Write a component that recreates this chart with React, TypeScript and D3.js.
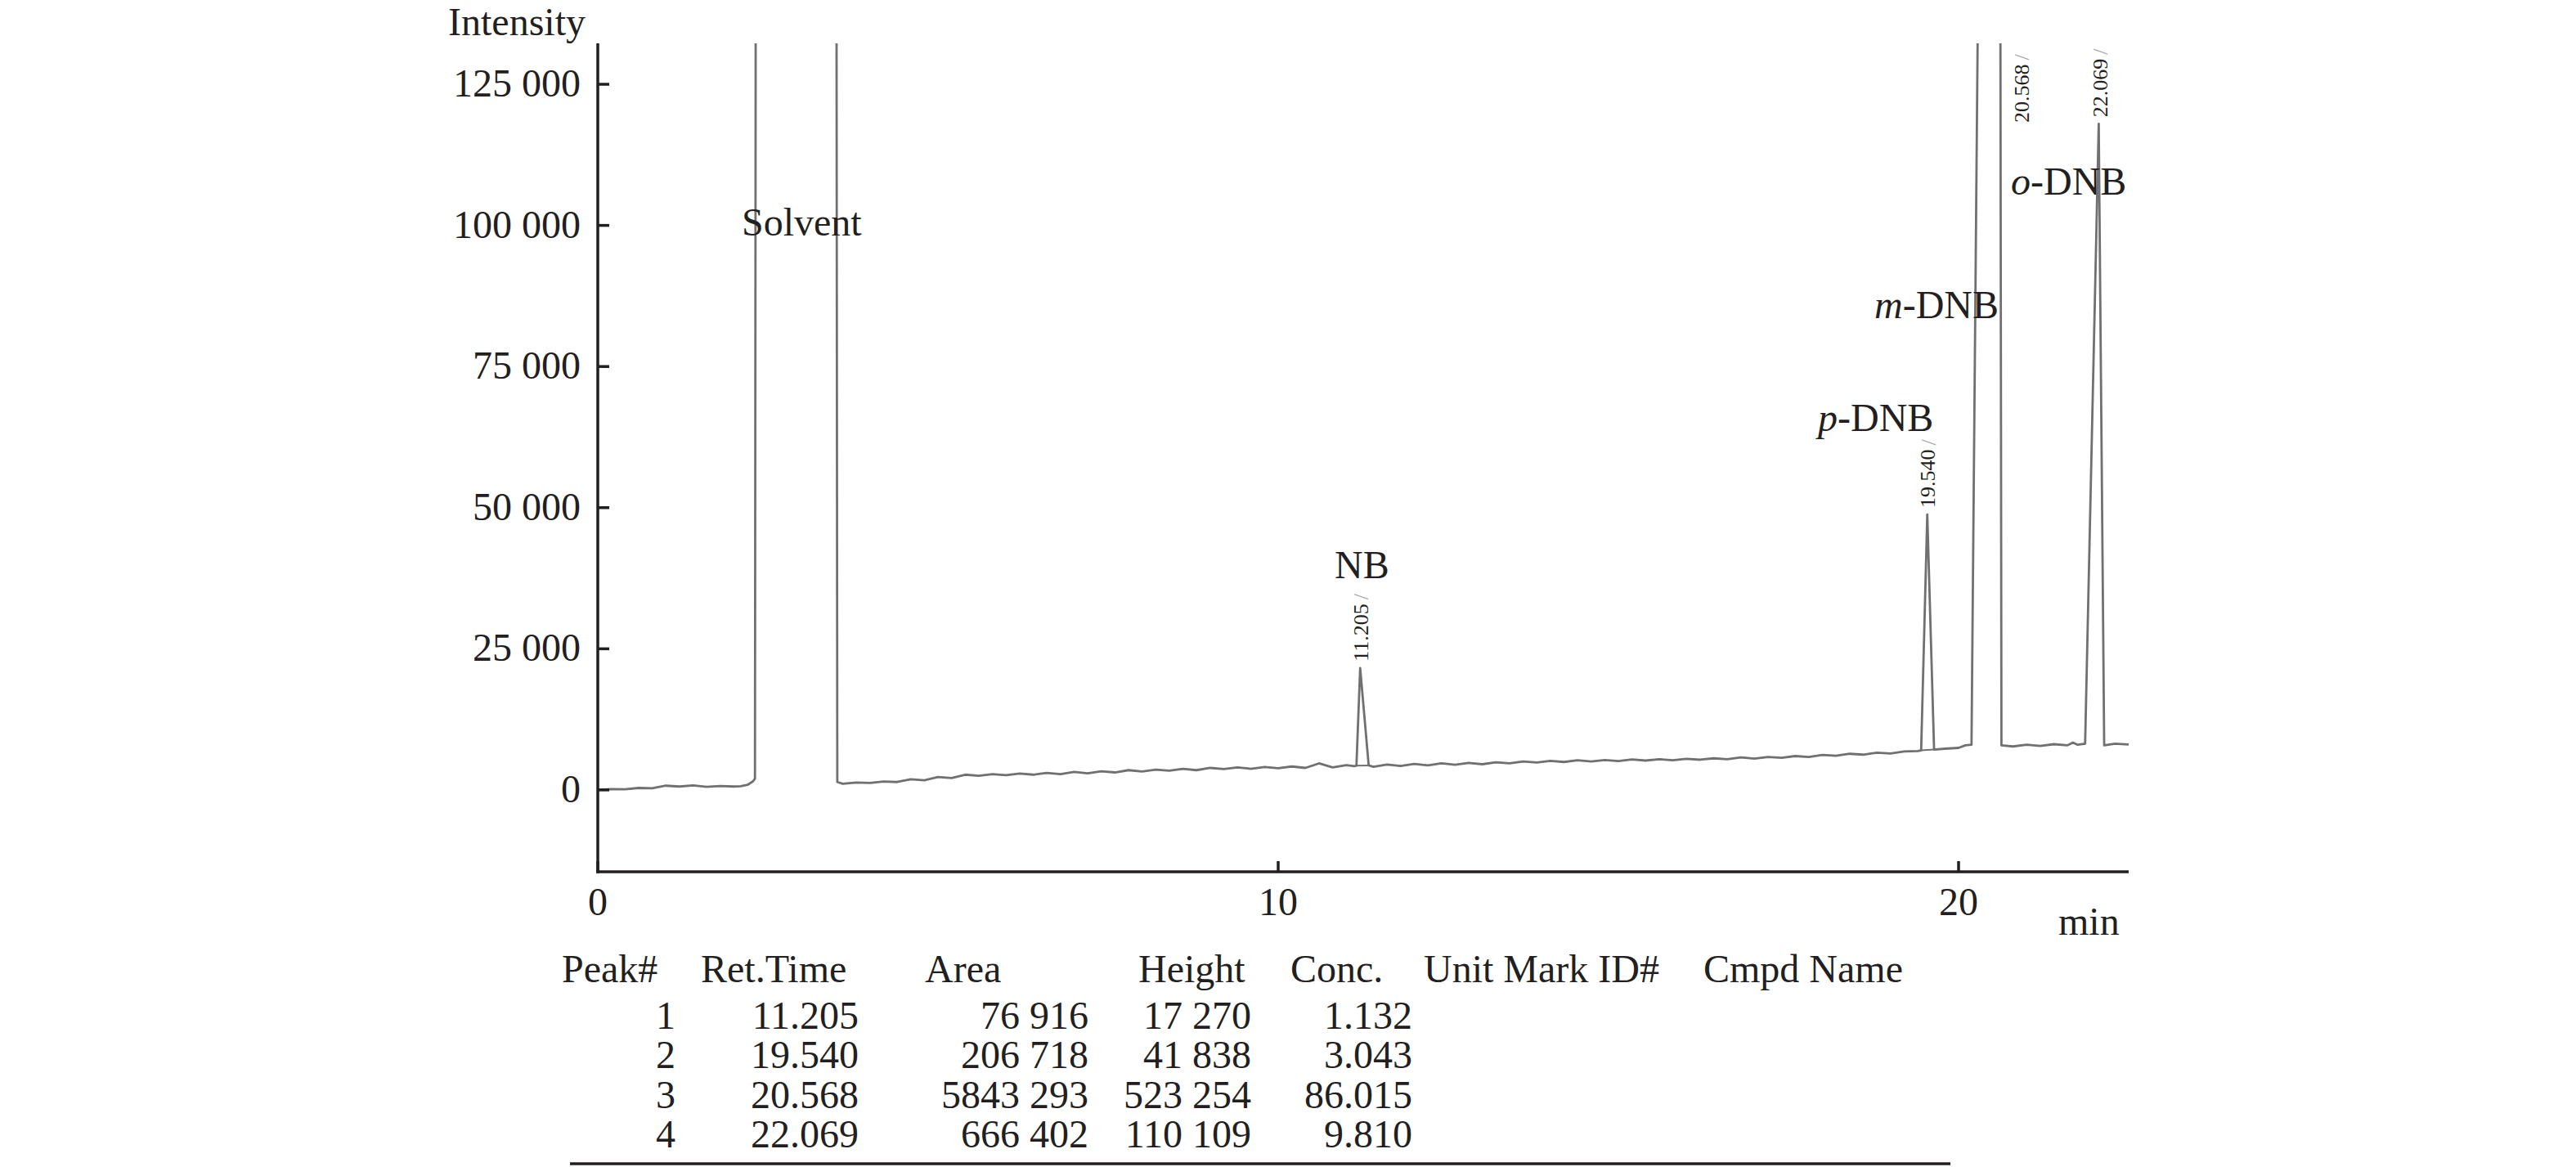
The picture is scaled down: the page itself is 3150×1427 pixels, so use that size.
import React from "react";
import * as d3 from "d3";

// ---- Data ----
const traceTime = [
  0.0, 0.2, 0.4, 0.6, 0.8, 1.0, 1.2, 1.4, 1.6, 1.8, 2.0, 2.1, 2.2, 2.28, 2.31,
  2.33, 3.5, 3.52, 3.6, 3.8, 4.0, 4.2, 4.4, 4.6, 4.8, 5.0, 5.2, 5.4, 5.6, 5.8,
  6.0, 6.2, 6.4, 6.6, 6.8, 7.0, 7.2, 7.4, 7.6, 7.8, 8.0, 8.2, 8.4, 8.6, 8.8,
  9.0, 9.2, 9.4, 9.6, 9.8, 10.0, 10.2, 10.4, 10.6, 10.8, 11.0, 11.12, 11.15,
  11.205, 11.33, 11.4, 11.6, 11.8, 12.0, 12.2, 12.4, 12.6, 12.8, 13.0, 13.2,
  13.4, 13.6, 13.8, 14.0, 14.2, 14.4, 14.6, 14.8, 15.0, 15.2, 15.4, 15.6, 15.8,
  16.0, 16.2, 16.4, 16.6, 16.8, 17.0, 17.2, 17.4, 17.6, 17.8, 18.0, 18.2, 18.4,
  18.6, 18.8, 19.0, 19.2, 19.4, 19.45, 19.54, 19.64, 19.8, 20.0, 20.1, 20.19,
  20.568, 20.63, 20.8, 21.0, 21.2, 21.4, 21.6, 21.68, 21.75, 21.86, 22.06,
  22.14, 22.3, 22.5,
];
const traceValue = [
  0, 150, 100, 350, 300, 750, 600, 800, 550, 700, 600, 650, 900, 1500, 2000,
  250000, 250000, 1400, 1100, 1300, 1250, 1500, 1400, 1900, 1700, 2300, 2100,
  2700, 2500, 2800, 2600, 2900, 2700, 3000, 2800, 3200, 2950, 3300, 3100, 3500,
  3250, 3600, 3400, 3750, 3500, 3900, 3700, 4000, 3750, 4050, 3850, 4150, 3900,
  4700, 4000, 4400, 4200, 4300, 21600, 4350, 4100, 4500, 4250, 4600, 4350,
  4700, 4450, 4800, 4550, 4900, 4700, 5050, 4850, 5150, 4950, 5250, 5050, 5300,
  5100, 5400, 5200, 5450, 5250, 5500, 5350, 5600, 5450, 5750, 5550, 5850, 5700,
  6000, 5850, 6200, 6050, 6400, 6250, 6600, 6450, 6800, 6900, 7000, 48800,
  7150, 7300, 7450, 7900, 8000, 531000, 7900, 7700, 8000, 7800, 8100, 7900,
  8400, 8000, 8200, 118000, 7900, 8200, 8050,
];

// integration baselines drawn under peaks: [t0, v0, t1, v1]
const integrationBaselines = [
  [11.15, 4300, 11.33, 4350],
  [19.45, 7000, 19.64, 7150],
];

const yTicks = [0, 25000, 50000, 75000, 100000, 125000];
const yTickLabels = ["0", "25 000", "50 000", "75 000", "100 000", "125 000"];
const xTicks = [0, 10, 20];
const xTickLabels = ["0", "10", "20"];

const retentionTimes = [11.205, 19.54, 20.568, 22.069];
const retentionLabels = ["11.205", "19.540", "20.568", "22.069"];
const retentionApex = [21600, 48800, 531000, 118000];

const tableHeaders = ["Peak#", "Ret.Time", "Area", "Height", "Conc.", "Unit Mark ID#", "Cmpd Name"];
const peakNumbers = ["1", "2", "3", "4"];
const peakRetTimes = ["11.205", "19.540", "20.568", "22.069"];
const peakAreas = ["76 916", "206 718", "5843 293", "666 402"];
const peakHeights = ["17 270", "41 838", "523 254", "110 109"];
const peakConcs = ["1.132", "3.043", "86.015", "9.810"];

// ---- Layout ----
const W = 3150;
const H = 1427;
const X0 = 731;
const X1 = 2603;
const YTOP = 53;
const YBOT = 1066;
const FONT = "'Liberation Serif', 'Times New Roman', Times, serif";
const INK = "#231f20";
const TRACE = "#707072";

export default function App() {
  const x = d3.scaleLinear().domain([0, 22.5]).range([X0, X1]);
  const y = d3.scaleLinear().domain([-14500, 132250]).range([YBOT, YTOP]);

  const pts: [number, number][] = traceTime.map((t, i) => [t, traceValue[i]]);
  const line = d3
    .line<[number, number]>()
    .x((d) => x(d[0]))
    .y((d) => y(d[1]));

  const headerX = [687, 857, 1131, 1392, 1578, 1741, 2083];
  const colRight = [826, 1050, 1331, 1530, 1727];
  const headerY = 1201;
  const rowY = [1258, 1306, 1355, 1403];
  const cols = [peakNumbers, peakRetTimes, peakAreas, peakHeights, peakConcs];

  // retention label placement
  const rtX = retentionTimes.map((t, i) => (i === 2 ? x(t) + 30 : x(t) + 1));
  const rtY = retentionApex.map((v, i) => (i === 2 ? 150 : Math.max(y(v) - 8, 60)));

  return (
    <svg
      width={W}
      height={H}
      viewBox={`0 0 ${W} ${H}`}
      style={{ position: "absolute", left: 0, top: 0, background: "#fff" }}
      fontFamily={FONT}
    >
      <rect x={0} y={0} width={W} height={H} fill="#fff" />
      <defs>
        <clipPath id="plotClip">
          <rect x={X0} y={YTOP} width={X1 - X0} height={YBOT - YTOP} />
        </clipPath>
      </defs>

      {/* trace */}
      <g clipPath="url(#plotClip)">
        <path
          d={line(pts) || ""}
          fill="none"
          stroke={TRACE}
          strokeWidth={2.8}
          strokeLinejoin="round"
        />
        {integrationBaselines.map((b, i) => (
          <line
            key={i}
            x1={x(b[0])}
            y1={y(b[1])}
            x2={x(b[2])}
            y2={y(b[3])}
            stroke={TRACE}
            strokeWidth={2}
          />
        ))}
      </g>

      {/* axes */}
      <line x1={X0} y1={YTOP} x2={X0} y2={YBOT + 1.75} stroke={INK} strokeWidth={3.5} />
      <line x1={X0 - 1.75} y1={YBOT} x2={X1} y2={YBOT} stroke={INK} strokeWidth={3.5} />
      {yTicks.map((v, i) => (
        <g key={"yt" + i}>
          <line x1={X0} x2={X0 + 14} y1={y(v)} y2={y(v)} stroke={INK} strokeWidth={3.5} />
          <text x={710} y={y(v) + 15} textAnchor="end" fontSize={48} fill={INK}>
            {yTickLabels[i]}
          </text>
        </g>
      ))}
      {xTicks.map((v, i) => (
        <g key={"xt" + i}>
          <line x1={x(v)} x2={x(v)} y1={YBOT} y2={YBOT - 13} stroke={INK} strokeWidth={3.5} />
          <text x={x(v)} y={1119} textAnchor="middle" fontSize={48} fill={INK}>
            {xTickLabels[i]}
          </text>
        </g>
      ))}
      <text x={548} y={43} fontSize={48} fill={INK}>
        Intensity
      </text>
      <text x={2517} y={1143} fontSize={48} fill={INK}>
        min
      </text>

      {/* compound labels */}
      <text x={907} y={288} fontSize={48} fill={INK}>
        Solvent
      </text>
      <text x={1632} y={707} fontSize={48} fill={INK}>
        NB
      </text>
      <text x={2223} y={527} fontSize={48} fill={INK}>
        <tspan fontStyle="italic">p</tspan>-DNB
      </text>
      <text x={2292} y={389} fontSize={48} fill={INK}>
        <tspan fontStyle="italic">m</tspan>-DNB
      </text>
      <text x={2459} y={238} fontSize={48} fill={INK}>
        <tspan fontStyle="italic">o</tspan>-DNB
      </text>

      {/* retention time labels */}
      {retentionLabels.map((s, i) => (
        <text
          key={"rt" + i}
          transform={`translate(${rtX[i]},${rtY[i]}) rotate(-90)`}
          fontSize={26}
          fill={INK}
          dominantBaseline="central"
        >
          {s}
          <tspan fill="#a8a8a8" dx={5}>
            /
          </tspan>
        </text>
      ))}

      {/* table */}
      {tableHeaders.map((h, i) => (
        <text key={"h" + i} x={headerX[i]} y={headerY} fontSize={48} fill={INK}>
          {h}
        </text>
      ))}
      {cols.map((col, c) =>
        col.map((v, r) => (
          <text
            key={`c${c}r${r}`}
            x={colRight[c]}
            y={rowY[r]}
            fontSize={48}
            fill={INK}
            textAnchor="end"
          >
            {v}
          </text>
        ))
      )}
      <line x1={697} x2={2385} y1={1423} y2={1423} stroke={INK} strokeWidth={3.5} />
    </svg>
  );
}
